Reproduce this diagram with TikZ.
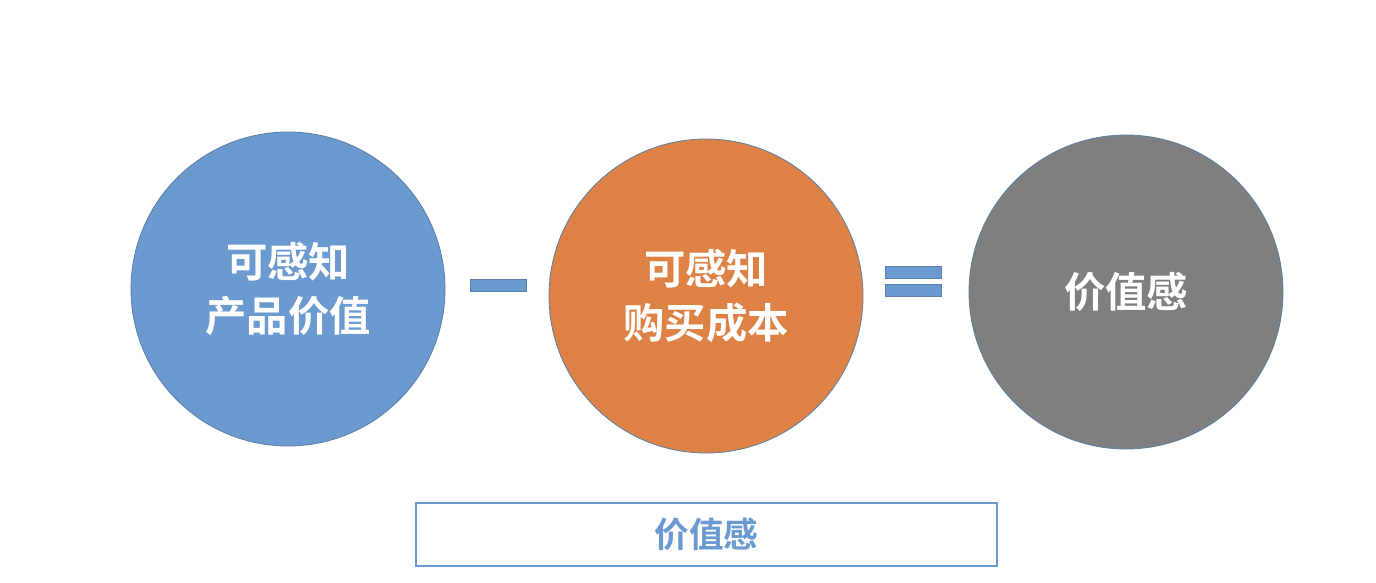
\documentclass[tikz,border=0pt]{standalone}
\usepackage{fontspec}
\newfontfamily\cjk{Noto Sans CJK SC Bold}
\definecolor{valblue}{HTML}{6A9AD0}
\definecolor{valorange}{HTML}{DD8244}
\definecolor{valgray}{HTML}{7F7F7F}
\definecolor{rimblue}{HTML}{5B7FA8}
\begin{document}
\begin{tikzpicture}[x=0.75pt,y=-0.75pt]
\tikzstyle{ball}=[circle, draw=rimblue, line width=0.6pt, minimum size=235.5pt,
  inner sep=0pt, text=white, align=center, font=\cjk\fontsize{31}{40}\selectfont]
\tikzstyle{bar}=[fill=valblue, draw=rimblue, line width=0.4pt]
\useasboundingbox (0,0) rectangle (1376,582);
\node[ball, fill=valblue] (perceived) at (288,289) {可感知\\产品价值};
\node[ball, fill=valorange] (cost) at (706,296) {可感知\\购买成本};
\node[ball, fill=valgray] (value) at (1126,292) {价值感};
\draw[bar] (470,279) rectangle (526,291);
\draw[bar] (885,266) rectangle (941,278);
\draw[bar] (885,284) rectangle (941,296);
\node[draw=valblue, line width=0.8pt, minimum width=435.75pt, minimum height=47.25pt,
  text=valblue, font=\cjk\fontsize{26}{30}\selectfont] (caption) at (706.5,534.5) {价值感};
\end{tikzpicture}
\end{document}
